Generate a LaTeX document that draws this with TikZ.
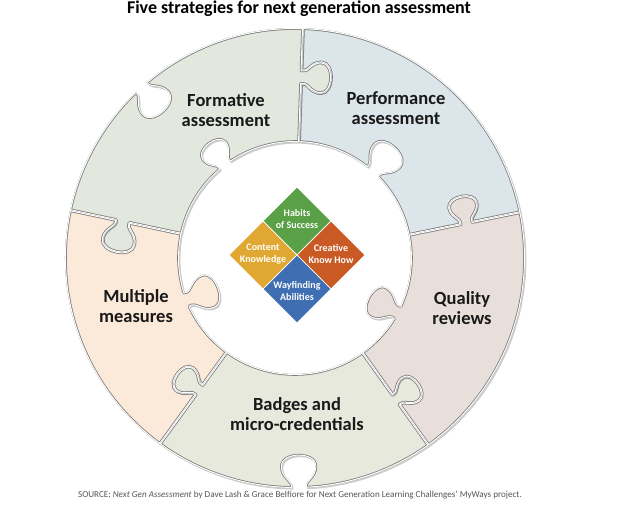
\documentclass[tikz,border=0pt]{standalone}
\usepackage{fontspec}
\setmainfont{Carlito}
\usetikzlibrary{shadows}
\definecolor{cForm}{HTML}{E3E8DF}
\definecolor{cPerf}{HTML}{DCE5E9}
\definecolor{cQual}{HTML}{E9DFDA}
\definecolor{cBadg}{HTML}{E7E9DD}
\definecolor{cMult}{HTML}{FBE9DA}
\definecolor{cEdge}{HTML}{7A7A7A}
\definecolor{dGreen}{HTML}{5AA046}
\definecolor{dGold}{HTML}{E0A832}
\definecolor{dOrange}{HTML}{C95A24}
\definecolor{dBlue}{HTML}{3F6EB2}
\definecolor{srcGray}{HTML}{555555}
\tikzset{
  kt/.style n args={4}{shift={(#1)},rotate=#2,scale=#4,yscale=#3},
  knob/.style n args={4}{insert path={
    -- ([kt={#1}{#2}{#3}{#4}]-6,0)
    .. controls ([kt={#1}{#2}{#3}{#4}]-4,6) and ([kt={#1}{#2}{#3}{#4}]-14,8) .. ([kt={#1}{#2}{#3}{#4}]-14,18)
    .. controls ([kt={#1}{#2}{#3}{#4}]-14,30) and ([kt={#1}{#2}{#3}{#4}]14,30) .. ([kt={#1}{#2}{#3}{#4}]14,18)
    .. controls ([kt={#1}{#2}{#3}{#4}]14,8) and ([kt={#1}{#2}{#3}{#4}]4,6) .. ([kt={#1}{#2}{#3}{#4}]6,0)
  }},
  pPerf/.style={insert path={(11.5:116) [knob={11.5:175}{11.5}{1}{1}] -- (11.5:230)
    arc[start angle=11.5,end angle=88,radius=230]
    [knob={88:181}{268}{1}{1.1}] -- (88:116)
    arc[start angle=88,end angle=51.6,radius=116]
    [knob={48:116}{-42}{1}{1.2}] -- (44.4:116)
    arc[start angle=44.4,end angle=11.5,radius=116] -- cycle}},
  pForm/.style={insert path={(88:116) [knob={88:181}{88}{-1}{1.1}] -- (88:230)
    arc[start angle=88,end angle=130.2,radius=230]
    [knob={132:230}{222}{1}{1.2}] -- (133.8:230)
    arc[start angle=133.8,end angle=168,radius=230]
    [knob={168:176}{348}{-1}{1.15}] -- (168:116)
    arc[start angle=168,end angle=129.96,radius=116]
    [knob={127:116}{37}{1}{1.0}] -- (124.04:116)
    arc[start angle=124.04,end angle=88,radius=116] -- cycle}},
  pMult/.style={insert path={(168:116) [knob={168:176}{168}{1}{1.15}] -- (168:230)
    arc[start angle=168,end angle=234,radius=230]
    [knob={234:163}{54}{1}{1.0}] -- (234:116)
    arc[start angle=234,end angle=204.7,radius=116]
    [knob={201:116}{111}{-1}{1.25}] -- (197.3:116)
    arc[start angle=197.3,end angle=168,radius=116] -- cycle}},
  pBadg/.style={insert path={(234:116) [knob={234:163}{234}{-1}{1.0}] -- (234:230)
    arc[start angle=234,end angle=269.2,radius=230]
    [knob={271:230}{1}{1}{1.2}] -- (272.8:230)
    arc[start angle=272.8,end angle=305.5,radius=230]
    [knob={305.5:174}{125.5}{-1}{1.0}] -- (305.5:116)
    arc[start angle=305.5,end angle=234,radius=116] -- cycle}},
  pQual/.style={insert path={(305.5:116) [knob={305.5:174}{305.5}{1}{1.0}] -- (305.5:230)
    arc[start angle=305.5,end angle=371.5,radius=230]
    [knob={371.5:175}{191.5}{-1}{1.0}] -- (371.5:116)
    arc[start angle=371.5,end angle=335.56,radius=116]
    [knob={332:116}{242}{-1}{1.2}] -- (328.44:116)
    arc[start angle=328.44,end angle=305.5,radius=116] -- cycle}},
  piece/.style={drop shadow={shadow xshift=1.4pt, shadow yshift=-1.6pt, opacity=0.4}},
  edgeband/.style={draw=cEdge, line width=3.6pt, line join=round},
  gapband/.style={draw=white, line width=2pt, line join=round},
  plabel/.style={align=center, font=\fontsize{18.5}{20.5}\selectfont\bfseries, text=black!90},
  dtext/.style={align=center, font=\fontsize{10}{12}\selectfont\bfseries, text=white},
  quad/.style={draw=white, line width=0.6pt}
}
\newcommand\pieceDraw[2]{%
  \path[piece, fill=#2, #1];
  \begin{scope}
    \clip[#1];
    \path[edgeband, #1];
    \path[gapband, #1];
  \end{scope}}
\begin{document}
\begin{tikzpicture}[x=1pt,y=1pt]
\useasboundingbox (-295,-254) rectangle (348,258);
\pieceDraw{pPerf}{cPerf}
\pieceDraw{pForm}{cForm}
\pieceDraw{pMult}{cMult}
\pieceDraw{pBadg}{cBadg}
\pieceDraw{pQual}{cQual}
% piece labels
\node[plabel] (form) at (-69,148) {Formative\\assessment};
\node[plabel] (perf) at (101,150) {Performance\\assessment};
\node[plabel] (mult) at (-159,-48) {Multiple\\measures};
\node[plabel] (qual) at (167,-50) {Quality\\reviews};
\node[plabel] (badg) at (2,-156) {Badges and\\micro-credentials};
% central diamond
\fill[quad, fill=dGreen] (2,3) -- (36,37) -- (2,71) -- (-32,37) -- cycle;
\fill[quad, fill=dGold] (2,3) -- (-32,37) -- (-66,3) -- (-32,-31) -- cycle;
\fill[quad, fill=dOrange] (2,3) -- (36,37) -- (70,3) -- (36,-31) -- cycle;
\fill[quad, fill=dBlue] (2,3) -- (36,-31) -- (2,-65) -- (-32,-31) -- cycle;
\draw[quad] (2,71) -- (70,3) -- (2,-65) -- (-66,3) -- cycle;
\draw[quad] (-32,37) -- (36,-31) (36,37) -- (-32,-31);
\node[dtext] (hab) at (2,39) {Habits\\of Success};
\node[dtext] (con) at (-32,4) {Content\\Knowledge};
\node[dtext] (cre) at (36,4) {Creative\\Know How};
\node[dtext] (way) at (2,-33) {Wayfinding\\Abilities};
% title and source
\node[font=\fontsize{18}{20}\selectfont\bfseries, text=black, anchor=base] (title) at (4,244) {Five strategies for next generation assessment};
\node[font=\fontsize{9.1}{11}\selectfont, text=srcGray] (src) at (5,-237) {SOURCE: \textit{Next Gen Assessment} by Dave Lash \& Grace Belfiore for Next Generation Learning Challenges’ MyWays project.};
\end{tikzpicture}
\end{document}
